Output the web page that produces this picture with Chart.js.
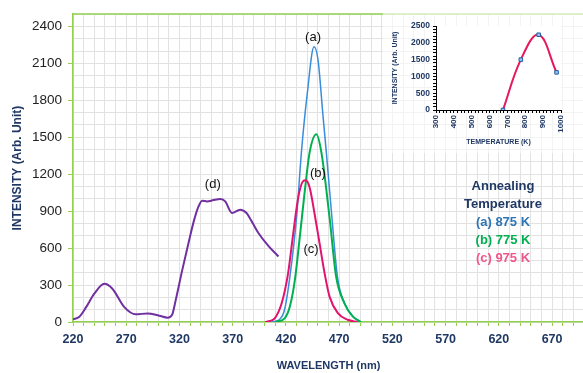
<!DOCTYPE html>
<html>
<head>
<meta charset="utf-8">
<script src="https://cdn.jsdelivr.net/npm/chart.js@4.4.1/dist/chart.umd.min.js"></script>
<style>
  html, body { margin: 0; padding: 0; background: #fff; overflow: hidden; }
  #wrap { position: relative; width: 583px; height: 373px; overflow: hidden; }
  #main { position: absolute; left: 0; top: 0; }
  #inset { position: absolute; left: 383px; top: 13px; }
  #legend { position: absolute; left: 443px; top: 177px; width: 120px; text-align: center;
            font-family: "Liberation Sans", Arial, sans-serif; font-weight: bold; font-size: 13px; line-height: 18px; }
  #legend .t { color: #1F3864; }
</style>
</head>
<body>
<div id="wrap">
  <canvas id="main" width="590" height="373"></canvas>
  <canvas id="inset" width="200" height="140"></canvas>
  <div id="legend">
    <div class="t">Annealing</div>
    <div class="t">Temperature</div>
    <div style="color:#2E75B6">(a) 875 K</div>
    <div style="color:#00B050">(b) 775 K</div>
    <div style="color:#F0578A">(c) 975 K</div>
  </div>
</div>
<script>
// spectrum (a) 875 K
const waveA = [406.6, 414, 419, 423.7, 430, 434.6, 440, 446.4, 450.1, 454.8, 457.9, 463.2, 468.4, 475, 482.8, 490.5];
const intA = [0, 20, 110, 366, 848, 1383, 1850, 2235, 2132, 1677, 1383, 848, 366, 152, 45, 0];

// spectrum (b) 775 K
const waveB = [410, 419, 423.7, 428.4, 433, 437.7, 442.4, 448.6, 453.2, 461, 467.2, 475, 482.8, 490.5];
const intB = [0, 32, 125, 340, 687, 1062, 1383, 1525, 1383, 848, 366, 152, 45, 0];

// spectrum (c) 975 K
const waveC = [400.4, 405, 409.7, 416, 422, 426.8, 431.5, 436, 438.6, 442.4, 447, 451.7, 456.4, 461, 468.8, 478, 487.4];
const intC = [0, 8, 32, 152, 393, 714, 1008, 1142, 1150, 1088, 875, 634, 393, 206, 72, 18, 0];

// spectrum (d)
const waveD = [220, 226, 232.5, 240, 249.5, 257, 268, 279, 290, 301, 309, 313, 316.5, 322.5, 329, 333.5, 338, 341.3, 346, 352, 358.4, 363, 369.3, 377, 383, 388, 394, 403.5, 413];
const intD = [22, 43, 123, 230, 310, 270, 123, 62, 70, 51, 35, 56, 178, 417, 660, 819, 940, 985, 979, 990, 998, 979, 885, 912, 885, 815, 725, 618, 532];

// inset: peak intensity vs annealing temperature
const tempK = [675, 775, 875, 975];
const peakInt = [0, 1500, 2240, 1120];

// tick labels
const xLabels = [220, 270, 320, 370, 420, 470, 520, 570, 620, 670];
const yLabels = [0, 300, 600, 900, 1200, 1500, 1800, 2100, 2400];
const insetXLabels = [300, 400, 500, 600, 700, 800, 900, 1000];
const insetYLabels = [0, 500, 1000, 1500, 2000, 2500];

// curve labels
const notes = [
  { text: '(a)', x: 445.5, y: 2314 },
  { text: '(b)', x: 450.1, y: 1206 },
  { text: '(c)', x: 443.6, y: 588 },
  { text: '(d)', x: 351.3, y: 1118 }
];

Chart.defaults.font.family = '"Liberation Sans", Arial, sans-serif';

const pts = (xs, ys) => xs.map((x, i) => ({ x: x, y: ys[i] }));
const green = '#92D050';
const navy = '#1F3864';

const notePlugin = {
  id: 'notes',
  afterDatasetsDraw(chart) {
    const { ctx, chartArea, scales: { x, y } } = chart;
    ctx.save();
    ctx.font = '13px "Liberation Sans", Arial, sans-serif';
    ctx.fillStyle = '#111';
    ctx.textAlign = 'center';
    ctx.textBaseline = 'middle';
    notes.forEach(n => ctx.fillText(n.text, x.getPixelForValue(n.x), y.getPixelForValue(n.y)));
    // top border of the plot box
    ctx.strokeStyle = green;
    ctx.lineWidth = 1.5;
    ctx.beginPath();
    ctx.moveTo(chartArea.left, chartArea.top);
    ctx.lineTo(chartArea.right, chartArea.top);
    ctx.stroke();
    ctx.restore();
  }
};

new Chart(document.getElementById('main'), {
  type: 'line',
  data: {
    datasets: [
      { data: pts(waveC, intC), borderColor: '#E2136E', borderWidth: 2 },
      { data: pts(waveB, intB), borderColor: '#00B050', borderWidth: 2 },
      { data: pts(waveA, intA), borderColor: '#3A8DDA', borderWidth: 1.5 },
      { data: pts(waveD, intD), borderColor: '#7030A0', borderWidth: 2 }
    ]
  },
  options: {
    responsive: false,
    animation: false,
    datasets: { line: { pointRadius: 0, cubicInterpolationMode: 'monotone', fill: false } },
    plugins: { legend: { display: false }, tooltip: { enabled: false } },
    layout: { padding: { top: 11, right: 2, left: 0, bottom: 0 } },
    scales: {
      x: {
        type: 'linear', min: 220, max: 700,
        ticks: {
          stepSize: 10, autoSkip: false, maxRotation: 0, padding: 6,
          color: navy, font: { size: 12.5, weight: 'bold' },
          callback: v => xLabels.includes(v) ? v : ''
        },
        grid: { color: '#e2e2e2', tickColor: green, tickLength: 4 },
        border: { color: green, width: 1.5 },
        title: { display: true, text: 'WAVELENGTH (nm)', color: navy, font: { size: 11, weight: 'bold' }, padding: { top: 0, bottom: 0 } },
        afterFit: s => { s.height = 51; }
      },
      y: {
        min: 0, max: 2500,
        ticks: {
          stepSize: 100, autoSkip: false, padding: 6,
          color: '#222', font: { size: 13.5 },
          callback: v => yLabels.includes(v) ? v : ''
        },
        grid: {
          color: '#e2e2e2', tickLength: 5,
          tickColor: c => (c.tick && yLabels.includes(c.tick.value)) ? green : 'rgba(0,0,0,0)'
        },
        border: { color: green, width: 1.5 },
        title: { display: true, text: 'INTENSITY (Arb. Unit)', color: navy, font: { size: 12, weight: 'bold' }, padding: { top: 10, bottom: 0 } },
        afterFit: s => { s.width = 73; }
      }
    }
  },
  plugins: [notePlugin]
});

const insetBg = {
  id: 'insetBg',
  beforeDraw(chart) {
    const { ctx, chartArea, width, height } = chart;
    ctx.save();
    ctx.fillStyle = 'rgba(255,255,255,0.6)';
    ctx.fillRect(0, 0, width, height);
    ctx.fillStyle = '#fff';
    ctx.fillRect(chartArea.left, chartArea.top, chartArea.right - chartArea.left, chartArea.bottom - chartArea.top);
    ctx.restore();
  }
};

new Chart(document.getElementById('inset'), {
  type: 'line',
  data: {
    datasets: [{
      data: pts(tempK, peakInt),
      borderColor: '#E8175D', borderWidth: 2, tension: 0.4,
      pointStyle: 'rect', pointRadius: 2.5,
      pointBackgroundColor: '#9DC3E6', pointBorderColor: '#1F5FA8', pointBorderWidth: 1
    }]
  },
  options: {
    responsive: false,
    animation: false,
    plugins: { legend: { display: false }, tooltip: { enabled: false } },
    layout: { padding: { top: 13, right: 22, left: 0, bottom: 0 } },
    scales: {
      x: {
        type: 'linear', min: 300, max: 1000,
        ticks: {
          stepSize: 20, autoSkip: false, minRotation: 90, maxRotation: 90, padding: 2,
          color: navy, font: { size: 8, weight: 'bold' },
          callback: v => insetXLabels.includes(v) ? v : ''
        },
        grid: { drawOnChartArea: false, tickLength: 3, tickColor: '#000' },
        border: { color: '#000', width: 1 },
        title: { display: true, text: 'TEMPERATURE (K)', color: navy, font: { size: 7, weight: 'bold' }, padding: { top: 0, bottom: 7 } },
        afterFit: s => { s.height = 43; }
      },
      y: {
        min: 0, max: 2500,
        ticks: {
          stepSize: 100, autoSkip: false, padding: 3,
          color: navy, font: { size: 8.5, weight: 'bold' },
          callback: v => insetYLabels.includes(v) ? v : ''
        },
        grid: { drawOnChartArea: false, tickLength: 3, tickColor: '#000' },
        border: { color: '#000', width: 1 },
        title: { display: true, text: 'INTENSITY (Arb. Unit)', color: navy, font: { size: 7, weight: 'bold' }, padding: { top: 8, bottom: 0 } },
        afterFit: s => { s.width = 53; }
      }
    }
  },
  plugins: [insetBg]
});
</script>
</body>
</html>
